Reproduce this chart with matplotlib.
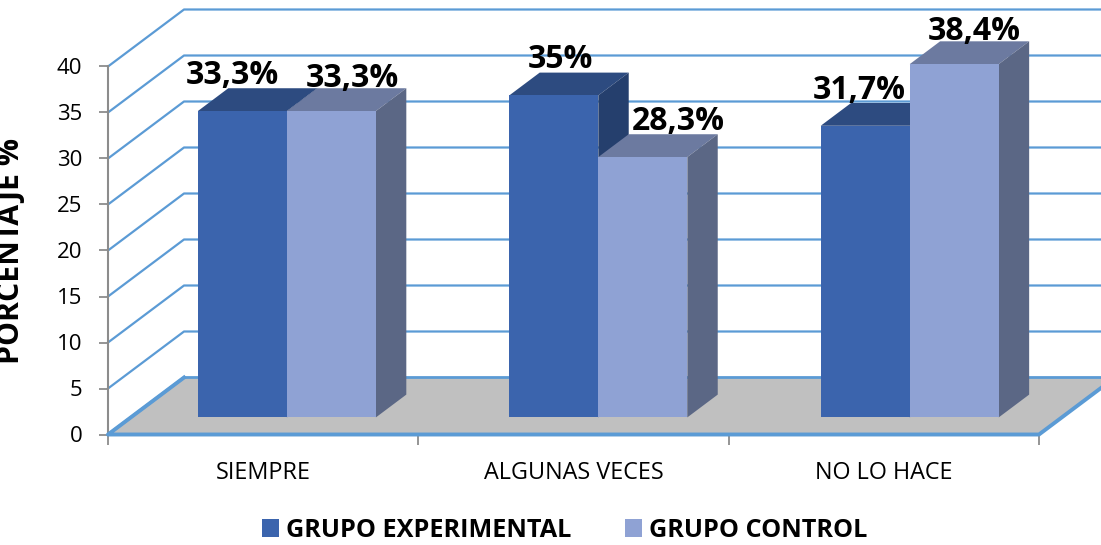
import matplotlib
matplotlib.use("Agg")
from matplotlib import pyplot as plt
from matplotlib.patches import Polygon, Patch

plt.rcParams['font.family'] = ['Open Sans', 'DejaVu Sans']

categorias = ["SIEMPRE", "ALGUNAS VECES", "NO LO HACE"]
experimental = [33.3, 35, 31.7]
control = [33.3, 28.3, 38.4]
etiq_exp = ["33,3%", "35%", "31,7%"]
etiq_con = ["33,3%", "28,3%", "38,4%"]
ticks_y = [0, 5, 10, 15, 20, 25, 30, 35, 40]

azul = "#5B9BD5"
gris = "#8C8C8C"
suelo = "#C0C0C0"
col_exp = ("#3B64AD", "#2D4B80", "#253F6D")
col_con = ("#8FA2D4", "#6C7AA0", "#5B6785")

# profundidad del grafico 3D en unidades de los ejes
prof_x = 76 / 310.3
prof_y = 57 / 9.2
# las barras ocupan una parte de esa profundidad
bar_ini = 0.30
bar_fin = 0.70
ancho = 89 / 310.3
centros = [0.503, 1.5065, 2.51]


def proy(x, y, d):
    return x + d * prof_x, y + d * prof_y


def caja(ax, x, h, cols, z):
    x0, y0 = proy(x, 0, bar_ini)
    x1 = x0 + ancho
    dx = (bar_fin - bar_ini) * prof_x
    dy = (bar_fin - bar_ini) * prof_y
    y1 = y0 + h
    ax.add_patch(Polygon([(x0, y1), (x1, y1), (x1 + dx, y1 + dy), (x0 + dx, y1 + dy)],
                         fc=cols[1], ec="none", zorder=z, clip_on=False))
    ax.add_patch(Polygon([(x1, y0), (x1 + dx, y0 + dy), (x1 + dx, y1 + dy), (x1, y1)],
                         fc=cols[2], ec="none", zorder=z, clip_on=False))
    ax.add_patch(Polygon([(x0, y0), (x1, y0), (x1, y1), (x0, y1)],
                         fc=cols[0], ec="none", zorder=z + 0.1, clip_on=False))


fig = plt.figure(figsize=(11.01, 5.45), dpi=100)
ax = fig.add_axes([108 / 1101, 1 - 434.5 / 545, 931 / 1101, 368 / 545])
ax.set_xlim(0, 3)
ax.set_ylim(0, 40)
ax.patch.set_visible(False)
for s in ["top", "right"]:
    ax.spines[s].set_visible(False)
for s in ["left", "bottom"]:
    ax.spines[s].set_color(gris)
    ax.spines[s].set_linewidth(1.5)

# paredes
for v in ticks_y[1:]:
    bx, by = proy(0, v, 1)
    ax.plot([0, bx, 3 + prof_x], [v, by, by], color=azul, lw=1.6, zorder=1, clip_on=False)

# suelo
p = [proy(0, 0, 0), proy(3, 0, 0), proy(3, 0, 1), proy(0, 0, 1)]
ax.add_patch(Polygon(p, fc=suelo, ec="none", zorder=2, clip_on=False))
ax.plot([p[0][0], p[3][0], p[2][0]], [p[0][1], p[3][1], p[2][1]], color=azul, lw=2, zorder=3, clip_on=False)
ax.plot([p[3][0], p[0][0], p[1][0], p[2][0]], [p[3][1], p[0][1], p[1][1], p[2][1]],
        color=azul, lw=2.8, zorder=3, clip_on=False)

# barras
for i in range(3):
    caja(ax, centros[i] - ancho, experimental[i], col_exp, 4 + i)
    caja(ax, centros[i], control[i], col_con, 4.5 + i)

# etiquetas de datos, movidas a mano como en el original
off_exp = [(-10, 36), (7, 36), (-6, 35)]
off_con = [(21, 33), (35, 36), (20, 33)]
for i in range(3):
    x0, y0 = proy(centros[i] - ancho / 2, experimental[i], bar_ini)
    ax.annotate(etiq_exp[i], (x0, y0), xytext=(off_exp[i][0], off_exp[i][1]), textcoords="offset pixels",
                ha="center", va="center", fontsize=23, fontweight="bold", color="black",
                zorder=20, annotation_clip=False)
    x0, y0 = proy(centros[i] + ancho / 2, control[i], bar_ini)
    ax.annotate(etiq_con[i], (x0, y0), xytext=(off_con[i][0], off_con[i][1]), textcoords="offset pixels",
                ha="center", va="center", fontsize=23, fontweight="bold", color="black",
                zorder=20, annotation_clip=False)

ax.set_yticks(ticks_y)
ax.set_yticklabels([str(v) for v in ticks_y], fontsize=16)
ax.tick_params(axis="y", length=6.5, width=1.3, color=gris, pad=12)
ax.set_xticks([0, 1, 2, 3])
ax.set_xticklabels([])
ax.set_xticks([0.5, 1.5, 2.5], minor=True)
ax.set_xticklabels(categorias, minor=True, fontsize=16.8)
ax.tick_params(axis="x", which="major", length=7, width=1.3, color=gris)
ax.tick_params(axis="x", which="minor", length=0, pad=19)
ax.set_ylabel("PORCENTAJE %", fontsize=21.8, fontweight="bold")
ax.yaxis.set_label_coords(-0.088, 0.50)

fig.legend(handles=[Patch(fc=col_exp[0], label="GRUPO EXPERIMENTAL"), Patch(fc=col_con[0], label="GRUPO CONTROL")],
           loc="lower center", bbox_to_anchor=(0.513, -0.038), ncol=2, frameon=False, handlelength=0.68, handleheight=0.68,
           handletextpad=0.28, columnspacing=2.1, prop={"size": 18.2, "weight": "bold"})

fig.savefig("out.png", dpi=100)
